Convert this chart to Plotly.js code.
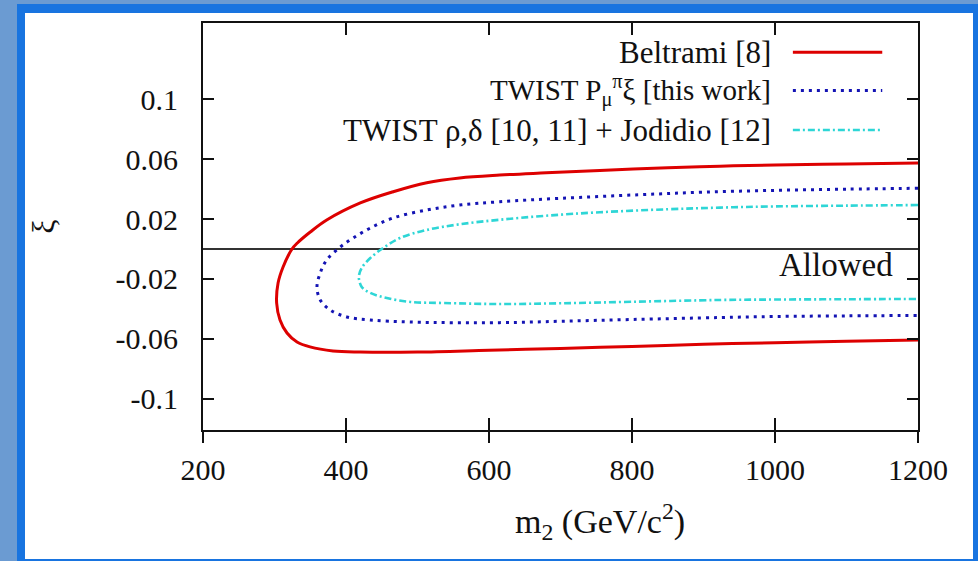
<!DOCTYPE html>
<html>
<head>
<meta charset="utf-8">
<script src="https://cdn.plot.ly/plotly-3.0.1.min.js"></script>
<style>
  html, body { margin:0; padding:0; background:#6b9bd2; width:978px; height:561px; overflow:hidden; }
  #frame { position:absolute; left:17px; top:4px; width:961px; height:557px; background:#1874e0; }
  #chart { position:absolute; left:25px; top:13px; width:948px; height:546px; background:#ffffff; }
</style>
</head>
<body>
<div id="frame"></div>
<div id="chart"></div>
<script>
// ---- data ----
const seriesNames = ["Beltrami [8]", "TWIST P<sub>μ</sub><sup>π</sup>ξ [this work]", "TWIST ρ,δ [10, 11] + Jodidio [12]"];

const beltramiM  = [1200, 1100, 1000, 923, 850, 755, 680, 615, 559, 513, 466, 420, 373, 350, 332, 324.5, 312, 305, 303, 307.7, 317.5, 331.5, 349.7, 381.8, 420, 500, 600, 700, 800, 900, 1000, 1100, 1200];
const beltramiXi = [0.0573, 0.0567, 0.056, 0.0552, 0.0541, 0.0524, 0.0508, 0.0493, 0.0474, 0.0442, 0.0382, 0.0307, 0.0193, 0.0113, 0.004, 0.0, -0.012, -0.0227, -0.036, -0.0473, -0.056, -0.062, -0.0653, -0.068, -0.0687, -0.0687, -0.0675, -0.0663, -0.065, -0.0635, -0.0625, -0.0615, -0.0607];

const twistPM  = [1200, 1100, 1000, 900, 811, 700, 615, 559, 513, 466, 434, 410, 392, 373, 364, 359.4, 364, 378, 401, 434, 490, 615, 700, 800, 923, 1000, 1100, 1200];
const twistPXi = [0.0405, 0.0399, 0.0391, 0.0379, 0.0362, 0.0338, 0.0315, 0.0293, 0.026, 0.0207, 0.014, 0.0073, 0.0013, -0.0073, -0.016, -0.0253, -0.034, -0.0407, -0.0453, -0.0473, -0.0487, -0.0491, -0.0482, -0.047, -0.0457, -0.045, -0.0446, -0.0443];

const twistRM  = [1200, 1100, 1000, 923, 850, 755, 680, 615, 559, 513, 475.5, 452, 434, 422, 418, 422, 434, 457, 490, 536, 615, 700, 800, 923, 1000, 1100, 1200];
const twistRXi = [0.0293, 0.0289, 0.0284, 0.0276, 0.0265, 0.0245, 0.0222, 0.0195, 0.0165, 0.0127, 0.0073, 0.0007, -0.006, -0.0127, -0.0187, -0.0253, -0.0293, -0.0327, -0.0353, -0.036, -0.0367, -0.0362, -0.0352, -0.034, -0.0337, -0.0335, -0.0333];

const xTicks = [200, 400, 600, 800, 1000, 1200];
const yTicks = [0.1, 0.06, 0.02, -0.02, -0.06, -0.1];
const yTickText = ["0.1", "0.06", "0.02", "-0.02", "-0.06", "-0.1"];

// ---- styles ----
const colors = ["#dd0000", "#1414b4", "#2ed6d6"];
const widths = [3, 3, 2.6];
const dashes = ["solid", "3px,5px", "7px,3px,2px,3px"];
const FONT = "'Liberation Serif', 'Times New Roman', serif";
const INK = "#111111";

const curves = [[beltramiM, beltramiXi], [twistPM, twistPXi], [twistRM, twistRXi]];
const traces = curves.map((c, i) => ({
  type: "scatter", mode: "lines", x: c[0], y: c[1], name: seriesNames[i],
  line: { color: colors[i], width: widths[i], dash: dashes[i], shape: "spline", smoothing: 1 },
  showlegend: false, hoverinfo: "skip"
}));
// empty trace carrying the axis that draws the outward halves of the x tick marks
traces.push({ type: "scatter", mode: "lines", x: [], y: [], xaxis: "x2", yaxis: "y", showlegend: false });

// legend: texts + sample lines in paper coordinates
const legendRows = [0.928, 0.834, 0.737];
const shapes = legendRows.map((yy, i) => ({
  type: "line", xref: "paper", yref: "paper", x0: 0.825, x1: 0.950, y0: yy, y1: yy,
  line: { color: colors[i], width: widths[i], dash: dashes[i] }
}));
const legendSizes = [31, 29, 31];
const annotations = legendRows.map((yy, i) => ({
  xref: "paper", yref: "paper", x: 0.797, y: yy, xanchor: "right", yanchor: "middle",
  text: seriesNames[i], showarrow: false, font: { family: FONT, size: legendSizes[i], color: INK }
}));
annotations.push({
  xref: "x", yref: "y", x: 1168, y: -0.0107, xanchor: "right", yanchor: "middle",
  text: "Allowed", showarrow: false, font: { family: FONT, size: 33, color: INK }
});
annotations.push({
  xref: "paper", yref: "paper", x: 0.555, y: -0.225, xanchor: "center", yanchor: "middle",
  text: "m<sub>2</sub> (GeV/c<sup>2</sup>)", showarrow: false, font: { family: FONT, size: 34, color: INK }
});

const layout = {
  width: 948, height: 546,
  margin: { l: 178, r: 55, t: 10, b: 129 },
  paper_bgcolor: "#ffffff", plot_bgcolor: "#ffffff",
  font: { family: FONT, size: 30, color: INK },
  showlegend: false,
  xaxis: {
    range: [200, 1200], tickvals: xTicks, ticktext: xTicks.map(String),
    ticks: "inside", ticklen: 12, tickwidth: 1.5, tickcolor: INK,
    showline: true, linecolor: INK, linewidth: 2, mirror: "ticks",
    showgrid: false, zeroline: false, ticklabelstandoff: 12,
    tickfont: { family: FONT, size: 30, color: INK }
  },
  xaxis2: {
    overlaying: "x", anchor: "y", side: "bottom", range: [200, 1200], tickvals: xTicks,
    ticks: "outside", ticklen: 12, tickwidth: 1.5, tickcolor: INK,
    showticklabels: false, showline: false, showgrid: false, zeroline: false
  },
  yaxis: {
    range: [-0.1207, 0.1507], tickvals: yTicks, ticktext: yTickText,
    ticks: "inside", ticklen: 11, tickwidth: 1.5, tickcolor: INK,
    showline: true, linecolor: INK, linewidth: 2, mirror: "ticks",
    showgrid: false, zeroline: true, zerolinecolor: "#333333", zerolinewidth: 2,
    ticklabelstandoff: 17,
    tickfont: { family: FONT, size: 30, color: INK },
    title: { text: "ξ", font: { family: FONT, size: 32, color: INK }, standoff: 52 }
  },
  shapes: shapes,
  annotations: annotations
};

Plotly.newPlot("chart", traces, layout, { displayModeBar: false, staticPlot: true });
</script>
</body>
</html>
